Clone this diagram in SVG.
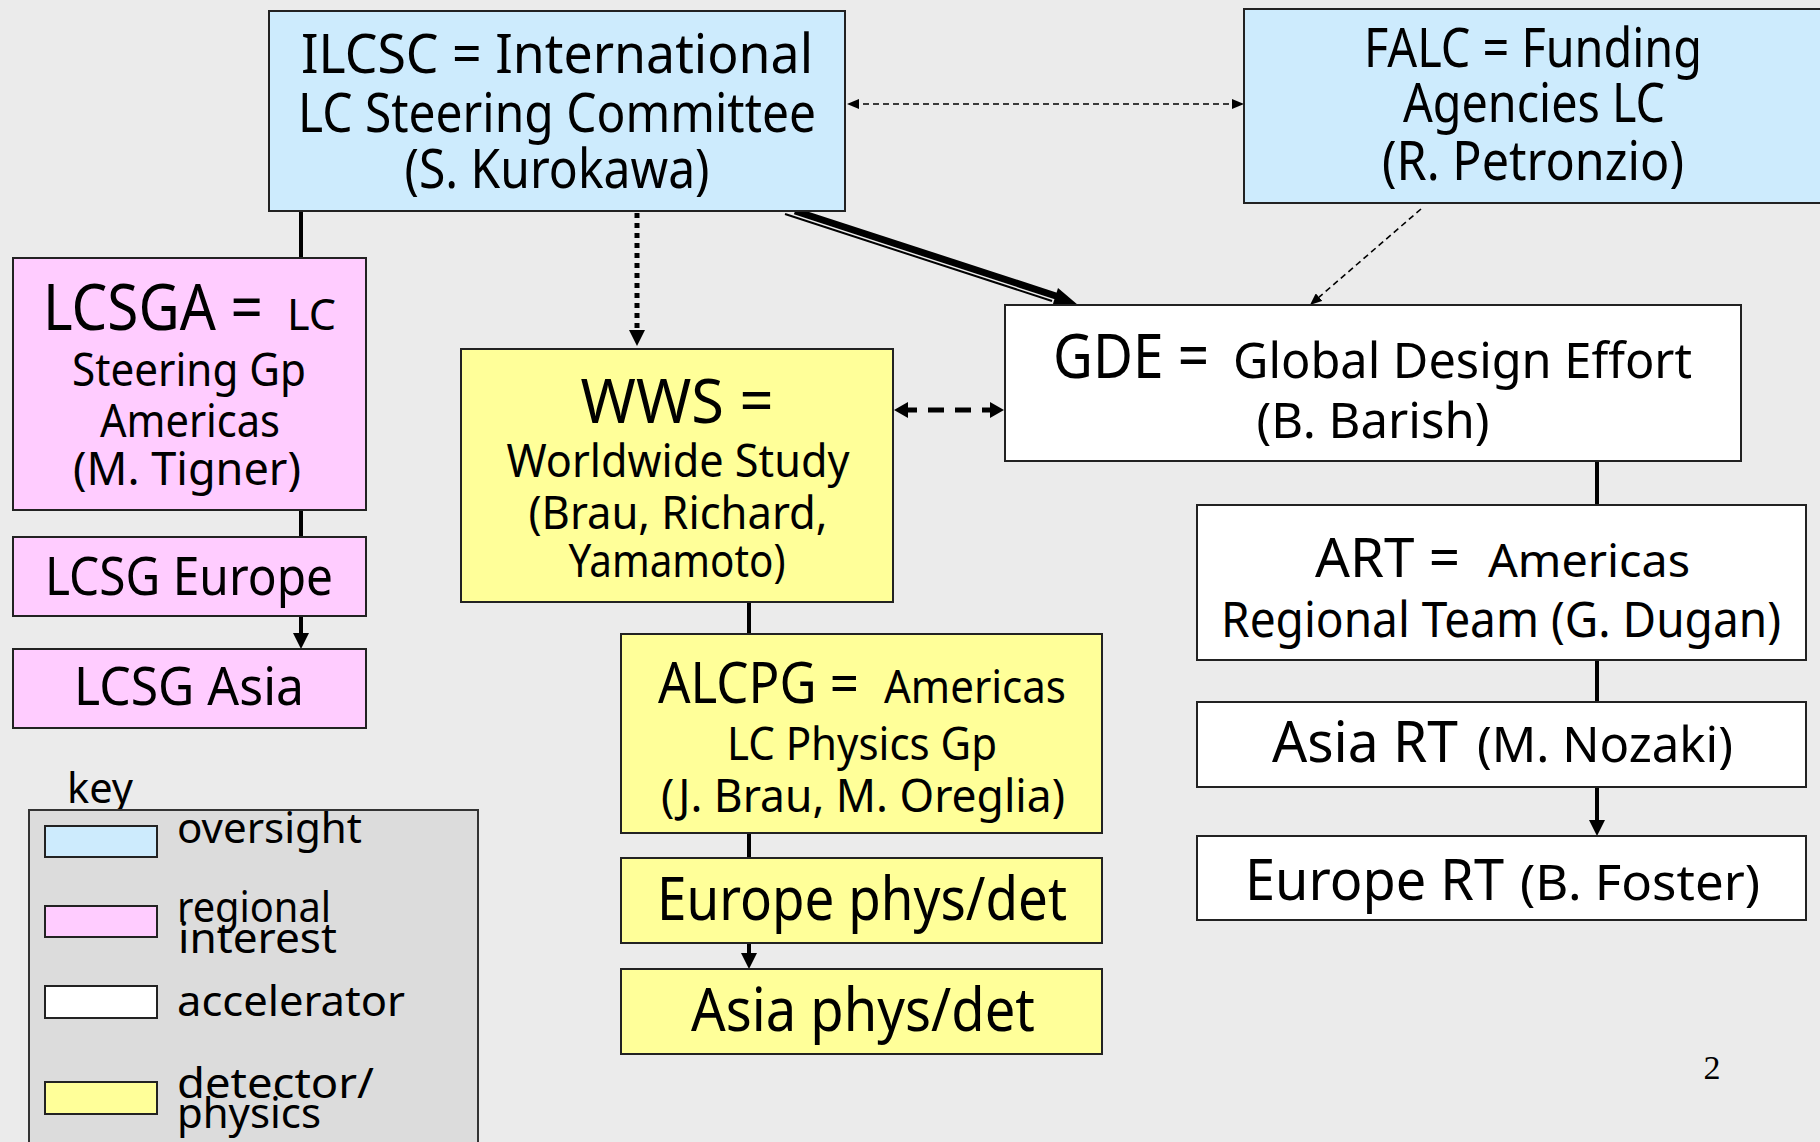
<svg xmlns="http://www.w3.org/2000/svg" width="1820" height="1142" viewBox="0 0 1820 1142">
<defs>
<style>
.box{stroke:#222;stroke-width:2}
.ov{fill:#cdebfd}
.rg{fill:#ffccff}
.ac{fill:#ffffff}
.dp{fill:#ffff99}
text{font-family:"Noto Sans","Open Sans",sans-serif;fill:#000}
.m{text-anchor:middle}
.ln{stroke:#000;stroke-width:4;fill:none}
.thin{stroke:#000;stroke-width:1.6;fill:none;stroke-dasharray:6 4}
.dot{stroke:#000;stroke-width:5;fill:none;stroke-dasharray:5 5}
.dash{stroke:#000;stroke-width:5;fill:none;stroke-dasharray:16 11}
</style>
<marker id="ah" viewBox="0 0 16 16" refX="8" refY="8" markerWidth="16" markerHeight="16" markerUnits="userSpaceOnUse" orient="auto-start-reverse"><path d="M0,0 L16,8 L0,16 z" fill="#000"/></marker>
<marker id="as" viewBox="0 0 12 10" refX="6" refY="5" markerWidth="12" markerHeight="10" markerUnits="userSpaceOnUse" orient="auto-start-reverse"><path d="M0,0 L12,5 L0,10 z" fill="#000"/></marker>
<marker id="am" viewBox="0 0 14 16" refX="7" refY="8" markerWidth="14" markerHeight="16" markerUnits="userSpaceOnUse" orient="auto-start-reverse"><path d="M0,0 L14,8 L0,16 z" fill="#000"/></marker>
</defs>
<rect x="0" y="0" width="1820" height="1142" fill="#ebebeb"/>

<g id="connectors">
<line class="ln" x1="301" y1="211" x2="301" y2="258"/>
<line class="ln" x1="301" y1="510" x2="301" y2="537"/>
<line class="ln" x1="301" y1="616" x2="301" y2="641" marker-end="url(#ah)"/>
<line class="dot" x1="637" y1="213" x2="637" y2="338" marker-end="url(#ah)"/>
<line class="thin" x1="853" y1="104" x2="1238" y2="104" marker-start="url(#as)" marker-end="url(#as)"/>
<line x1="795" y1="211" x2="1062" y2="298" stroke="#000" stroke-width="7"/>
<line x1="785" y1="214" x2="1052" y2="301" stroke="#000" stroke-width="2"/>
<polygon points="1078,305 1052,307 1058,288" fill="#000"/>
<line class="thin" x1="1421" y1="209" x2="1314.5" y2="301.1" marker-end="url(#as)"/>
<line class="dash" x1="901" y1="410" x2="997" y2="410" marker-start="url(#am)" marker-end="url(#am)"/>
<line class="ln" x1="749" y1="602" x2="749" y2="634"/>
<line class="ln" x1="749" y1="833" x2="749" y2="858"/>
<line class="ln" x1="749" y1="943" x2="749" y2="961" marker-end="url(#ah)"/>
<line class="ln" x1="1597" y1="461" x2="1597" y2="505"/>
<line class="ln" x1="1597" y1="660" x2="1597" y2="702"/>
<line class="ln" x1="1597" y1="787" x2="1597" y2="828" marker-end="url(#ah)"/>
</g>

<g id="ilcsc">
<rect class="box ov" x="269" y="11" width="576" height="200"/>
<text class="m" x="557" y="73" font-size="54" textLength="512" lengthAdjust="spacingAndGlyphs">ILCSC = International</text>
<text class="m" x="557" y="132" font-size="54" textLength="518" lengthAdjust="spacingAndGlyphs">LC Steering Committee</text>
<text class="m" x="557" y="188" font-size="54" textLength="305" lengthAdjust="spacingAndGlyphs">(S. Kurokawa)</text>
</g>

<g id="falc">
<rect class="box ov" x="1244" y="9" width="600" height="194"/>
<text class="m" x="1533" y="67" font-size="54" textLength="338" lengthAdjust="spacingAndGlyphs">FALC = Funding</text>
<text class="m" x="1534" y="122" font-size="54" textLength="262" lengthAdjust="spacingAndGlyphs">Agencies LC</text>
<text class="m" x="1533" y="180" font-size="54" textLength="302" lengthAdjust="spacingAndGlyphs">(R. Petronzio)</text>
</g>

<g id="lcsga">
<rect class="box rg" x="13" y="258" width="353" height="252"/>
<text x="43" y="330" font-size="64" textLength="220" lengthAdjust="spacingAndGlyphs">LCSGA =</text>
<text x="287" y="330" font-size="44" textLength="49" lengthAdjust="spacingAndGlyphs">LC</text>
<text class="m" x="189" y="386" font-size="46" textLength="234" lengthAdjust="spacingAndGlyphs">Steering Gp</text>
<text class="m" x="190" y="437" font-size="46" textLength="180" lengthAdjust="spacingAndGlyphs">Americas</text>
<text class="m" x="187" y="485" font-size="46" textLength="228" lengthAdjust="spacingAndGlyphs">(M. Tigner)</text>
</g>

<g id="lcsg-europe">
<rect class="box rg" x="13" y="537" width="353" height="79"/>
<text class="m" x="189" y="595" font-size="52" textLength="288" lengthAdjust="spacingAndGlyphs">LCSG Europe</text>
</g>

<g id="lcsg-asia">
<rect class="box rg" x="13" y="649" width="353" height="79"/>
<text class="m" x="189" y="705" font-size="52" textLength="230" lengthAdjust="spacingAndGlyphs">LCSG Asia</text>
</g>

<g id="wws">
<rect class="box dp" x="461" y="349" width="432" height="253"/>
<text class="m" x="677" y="423" font-size="62" textLength="193" lengthAdjust="spacingAndGlyphs">WWS =</text>
<text class="m" x="678" y="477" font-size="46" textLength="343" lengthAdjust="spacingAndGlyphs">Worldwide Study</text>
<text class="m" x="678" y="529" font-size="46" textLength="299" lengthAdjust="spacingAndGlyphs">(Brau, Richard,</text>
<text class="m" x="677" y="577" font-size="46" textLength="217" lengthAdjust="spacingAndGlyphs">Yamamoto)</text>
</g>

<g id="gde">
<rect class="box ac" x="1005" y="305" width="736" height="156"/>
<text x="1053" y="378" font-size="62" textLength="156" lengthAdjust="spacingAndGlyphs">GDE =</text>
<text x="1233" y="378" font-size="50" textLength="459" lengthAdjust="spacingAndGlyphs">Global Design Effort</text>
<text class="m" x="1373" y="438" font-size="50" textLength="233" lengthAdjust="spacingAndGlyphs">(B. Barish)</text>
</g>

<g id="art">
<rect class="box ac" x="1197" y="505" width="609" height="155"/>
<text x="1315" y="577" font-size="54" textLength="145" lengthAdjust="spacingAndGlyphs">ART =</text>
<text x="1488" y="577" font-size="46" textLength="202" lengthAdjust="spacingAndGlyphs">Americas</text>
<text class="m" x="1501" y="637" font-size="50" textLength="560" lengthAdjust="spacingAndGlyphs">Regional Team (G. Dugan)</text>
</g>

<g id="asia-rt">
<rect class="box ac" x="1197" y="702" width="609" height="85"/>
<text x="1272" y="762" font-size="56" textLength="186" lengthAdjust="spacingAndGlyphs">Asia RT</text>
<text x="1477" y="762" font-size="50" textLength="256" lengthAdjust="spacingAndGlyphs">(M. Nozaki)</text>
</g>

<g id="europe-rt">
<rect class="box ac" x="1197" y="836" width="609" height="84"/>
<text x="1245" y="900" font-size="56" textLength="259" lengthAdjust="spacingAndGlyphs">Europe RT</text>
<text x="1520" y="900" font-size="50" textLength="240" lengthAdjust="spacingAndGlyphs">(B. Foster)</text>
</g>

<g id="alcpg">
<rect class="box dp" x="621" y="634" width="481" height="199"/>
<text x="658" y="703" font-size="56" textLength="201" lengthAdjust="spacingAndGlyphs">ALCPG =</text>
<text x="884" y="703" font-size="46" textLength="182" lengthAdjust="spacingAndGlyphs">Americas</text>
<text x="727" y="760" font-size="46" textLength="270" lengthAdjust="spacingAndGlyphs">LC Physics Gp</text>
<text class="m" x="863" y="812" font-size="46" textLength="404" lengthAdjust="spacingAndGlyphs">(J. Brau, M. Oreglia)</text>
</g>

<g id="europe-physdet">
<rect class="box dp" x="621" y="858" width="481" height="85"/>
<text class="m" x="862" y="920" font-size="60" textLength="410" lengthAdjust="spacingAndGlyphs">Europe phys/det</text>
</g>

<g id="asia-physdet">
<rect class="box dp" x="621" y="969" width="481" height="85"/>
<text class="m" x="863" y="1031" font-size="60" textLength="344" lengthAdjust="spacingAndGlyphs">Asia phys/det</text>
</g>

<g id="key">
<text x="67" y="803" font-size="42" textLength="66" lengthAdjust="spacingAndGlyphs">key</text>
<rect x="29" y="810" width="449" height="345" fill="#dcdcdc" stroke="#333" stroke-width="2"/>
<rect class="box ov" x="45" y="826" width="112" height="31"/>
<rect class="box rg" x="45" y="906" width="112" height="31"/>
<rect class="box ac" x="45" y="986" width="112" height="32"/>
<rect class="box dp" x="45" y="1082" width="112" height="32"/>
<text x="177" y="843" font-size="42" textLength="185" lengthAdjust="spacingAndGlyphs">oversight</text>
<text x="177" y="922" font-size="42" textLength="154" lengthAdjust="spacingAndGlyphs">regional</text>
<text x="178" y="953" font-size="42" textLength="159" lengthAdjust="spacingAndGlyphs">interest</text>
<text x="177" y="1016" font-size="42" textLength="228" lengthAdjust="spacingAndGlyphs">accelerator</text>
<text x="177" y="1098" font-size="42" textLength="197" lengthAdjust="spacingAndGlyphs">detector/</text>
<text x="177" y="1128" font-size="42" textLength="144" lengthAdjust="spacingAndGlyphs">physics</text>
</g>

<text x="1712" y="1079" font-size="34" text-anchor="middle" style="font-family:'Liberation Serif',serif">2</text>
</svg>
